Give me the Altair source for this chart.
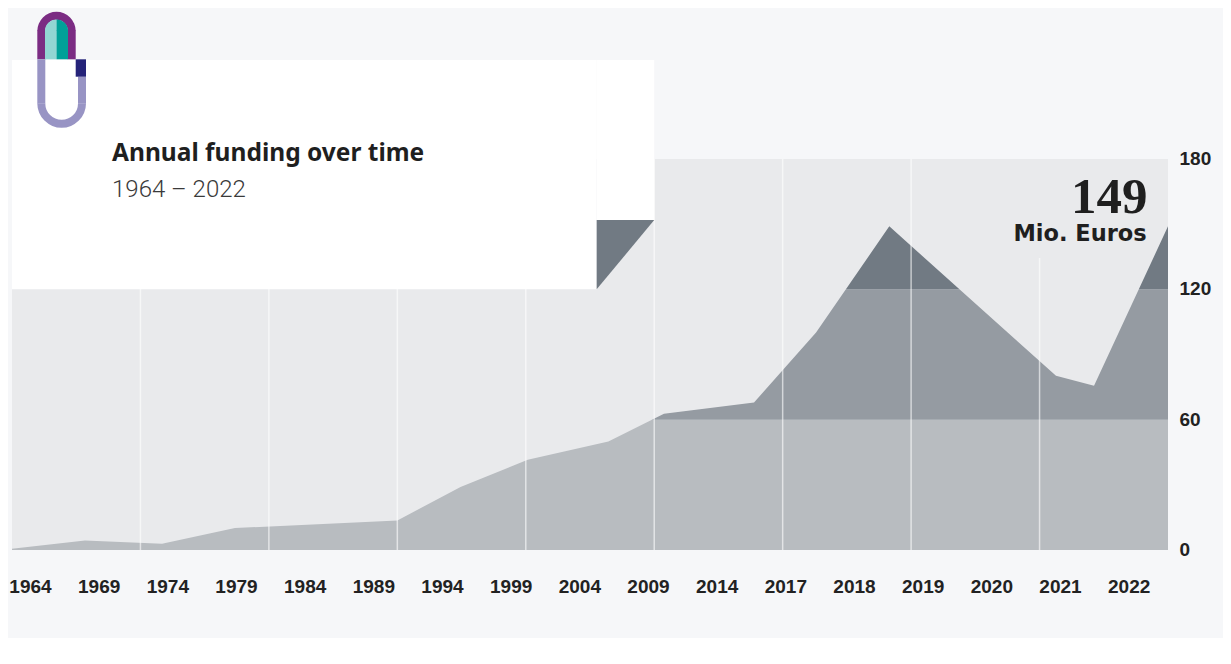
import altair as alt
import pandas as pd

# ---------------- data ----------------
# x positions in "grid units": the plot is split into 9 equal columns by the grid lines
positions = [0, 0.568, 1.168, 1.736, 3.0, 3.492, 4.015, 4.643, 5.076, 5.777, 6.26, 6.83, 8.128, 8.424, 9.0]
funding = [0.6, 4.4, 2.9, 10.1, 13.6, 29.0, 41.5, 50.0, 62.7, 67.9, 100.1, 149, 80.2, 75.6, 149]
year_labels = ["1964", "1969", "1974", "1979", "1984", "1989", "1994", "1999", "2004",
               "2009", "2014", "2017", "2018", "2019", "2020", "2021", "2022"]
y_ticks = [0, 60, 120, 180]
band_lo = [0, 60, 120]
band_hi = [60, 120, 180]
grid_cols = [1, 2, 3, 4, 5, 6, 7, 8]

title_text = "Annual funding over time"
unit_text = "Mio. Euros"

# ---------------- styles ----------------
PAGE_BG = "#f6f7f9"
PLOT_BG = "#e9eaec"
band_colors = ["#b8bcc0", "#959ba2", "#717a83"]
TEXT = "#1f1f1f"

W, H = 1156, 391
X_MAX, Y_MAX = 9, 180

xs = alt.Scale(domain=[0, X_MAX], nice=False, zero=False)
ys = alt.Scale(domain=[0, Y_MAX], nice=False, zero=True)
yaxis = alt.Axis(orient="right", values=y_ticks, labelFont="Liberation Sans",
                 labelFontWeight="bold", labelFontSize=19, labelColor="#222222",
                 labelPadding=11, ticks=False, domain=False, grid=False, title=None,
                 labelBaseline="middle", labelOffset=-0.5)

one = pd.DataFrame({"k": [0]})

# bands
bands_df = pd.DataFrame({"lo": band_lo, "hi": band_hi, "c": band_colors,
                         "x0": [0] * 3, "x1": [X_MAX] * 3})
bands = alt.Chart(bands_df).mark_rect().encode(
    x=alt.X("x0:Q", scale=xs, axis=None), x2="x1",
    y=alt.Y("lo:Q", scale=ys, axis=yaxis), y2="hi",
    color=alt.Color("c:N", scale=None, legend=None),
)

# inverse area (background above the funding line)
area_df = pd.DataFrame({"pos": positions, "val": funding, "top": [Y_MAX] * len(funding)})
inv_area = alt.Chart(area_df).mark_area(color=PLOT_BG, opacity=1).encode(
    x=alt.X("pos:Q", scale=xs, axis=None),
    y=alt.Y("val:Q", scale=ys, axis=yaxis), y2="top",
)

# grid lines
grid_df = pd.DataFrame({"g": grid_cols, "lo": [0] * 8, "hi": [Y_MAX] * 8})
grid = alt.Chart(grid_df).mark_rule(color="white", strokeWidth=1.5, opacity=0.6).encode(
    x=alt.X("g:Q", scale=xs, axis=None),
    y=alt.Y("lo:Q", scale=ys, axis=yaxis), y2="hi",
)

# background behind the annotation
ann_df = pd.DataFrame({"x0": [7.6], "x1": [8.83], "y0": [134.4], "y1": [Y_MAX]})
ann_bg = alt.Chart(ann_df).mark_rect(color=PLOT_BG).encode(
    x=alt.X("x0:Q", scale=xs, axis=None), x2="x1",
    y=alt.Y("y0:Q", scale=ys, axis=yaxis), y2="y1",
)

# white title box with folded corner
box_df = pd.DataFrame({"x0": [0, 4.552], "x1": [4.552, 5.0],
                       "y0": [120, 151.9], "y1": [225.6, 225.6]})
box = alt.Chart(box_df).mark_rect(color="white").encode(
    x=alt.X("x0:Q", scale=xs, axis=None), x2="x1",
    y=alt.Y("y0:Q", scale=ys, axis=yaxis), y2="y1",
)
tri_df = pd.DataFrame({"pos": [4.552, 5.0], "lo": [120, 151.9], "hi": [151.9, 151.9]})
tri = alt.Chart(tri_df).mark_area(color=band_colors[2]).encode(
    x=alt.X("pos:Q", scale=xs, axis=None),
    y=alt.Y("lo:Q", scale=ys, axis=yaxis), y2="hi",
)

# logo (decorative, pixel units relative to plot origin)
PURPLE, LTEAL, TEAL, LAV, NAVY = "#7b2c83", "#92d6d3", "#00a098", "#9894c4", "#252379"
logo_rects = pd.DataFrame({
    "x1": [25.3, 55.7, 33.0, 44.5, 25.3, 66.0, 63.7],
    "x2": [33.3, 63.7, 44.5, 56.0, 33.3, 74.0, 74.0],
    "y1": [-128.5, -128.5, -128.5, -128.5, -99.7, -82.3, -99.7],
    "y2": [-99.7, -99.7, -99.7, -99.7, -55.3, -55.3, -82.3],
    "c": [PURPLE, PURPLE, LTEAL, TEAL, LAV, LAV, NAVY],
})
logo_r = alt.Chart(logo_rects).mark_rect().encode(
    x=alt.X("x1:Q", scale=None, axis=None), x2="x2",
    y=alt.Y("y1:Q", scale=None, axis=None), y2="y2",
    color=alt.Color("c:N", scale=None, legend=None),
)
PI = 3.14159265
arc_purple = alt.Chart(one).mark_arc(radius=19.2, radius2=11.2, theta=1.5 * PI, theta2=2.5 * PI,
                                     color=PURPLE).encode(x=alt.value(44.5), y=alt.value(-128))
arc_lteal = alt.Chart(one).mark_arc(radius=11.5, theta=1.5 * PI, theta2=2 * PI,
                                    color=LTEAL).encode(x=alt.value(44.5), y=alt.value(-128))
arc_teal = alt.Chart(one).mark_arc(radius=11.5, theta=0.0001, theta2=0.5 * PI,
                                   color=TEAL).encode(x=alt.value(44.5), y=alt.value(-128))
arc_lav = alt.Chart(one).mark_arc(radius=24.35, radius2=16.35, theta=0.5 * PI, theta2=1.5 * PI,
                                  color=LAV).encode(x=alt.value(49.65), y=alt.value(-55.6))

# texts
title = alt.Chart(one).mark_text(text=title_text, font="Noto Sans", fontWeight="bold",
                                 fontSize=24.5, color=TEXT, align="left",
                                 baseline="alphabetic").encode(x=alt.value(100), y=alt.value(1.5))
subtitle = alt.Chart(one).mark_text(text=f"{year_labels[0]} \u2013 {year_labels[-1]}",
                                    font="Roboto", fontWeight=300, fontSize=24, color="#3a3a3a",
                                    align="left", baseline="alphabetic").encode(
    x=alt.value(100), y=alt.value(38))
big = alt.Chart(one).mark_text(text=f"{funding[-1]:g}", font="Liberation Serif", fontWeight="bold",
                               fontSize=51, color=TEXT, align="right",
                               baseline="alphabetic").encode(x=alt.value(1135.5), y=alt.value(53.5))
unit = alt.Chart(one).mark_text(text=unit_text, font="DejaVu Sans", fontWeight="bold",
                                fontSize=22.5, color=TEXT, align="right",
                                baseline="alphabetic").encode(x=alt.value(1134.7), y=alt.value(81.7))

lab_df = pd.DataFrame({"label": year_labels,
                       "p": [0.144 + 0.5346 * i for i in range(len(year_labels))]})
xlabels = alt.Chart(lab_df).mark_text(font="Liberation Sans", fontWeight="bold", fontSize=19,
                                      color="#222222", align="center", baseline="middle").encode(
    x=alt.X("p:Q", scale=xs, axis=None), y=alt.value(H + 37.3), text="label:N")

chart = alt.layer(
    bands, inv_area, grid, ann_bg, box, tri,
    logo_r, arc_purple, arc_lteal, arc_teal, arc_lav,
    title, subtitle, big, unit, xlabels,
).properties(
    width=W, height=H,
    padding={"left": 4, "top": 151, "right": 55, "bottom": 88},
    autosize=alt.AutoSizeParams(type="none"),
).configure(background=PAGE_BG).configure_view(fill=PLOT_BG, stroke=None)

chart.save("out.html", embed_options={"renderer": "svg", "actions": False})
